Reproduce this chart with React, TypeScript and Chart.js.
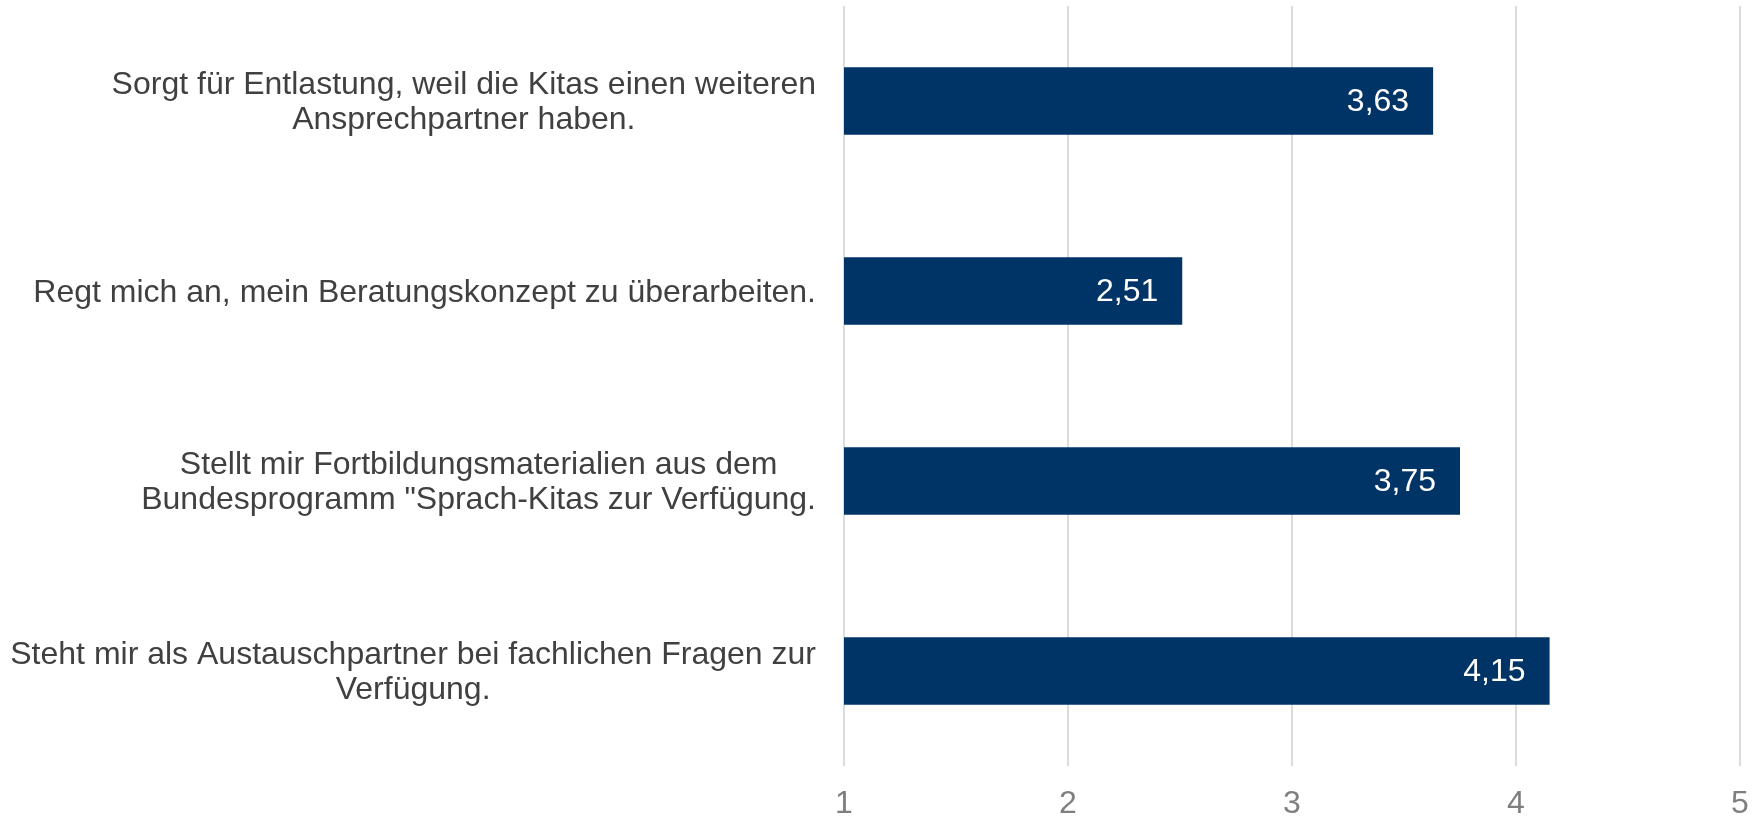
import React, { useEffect, useRef } from "react";
import { Chart, registerables } from "chart.js";

Chart.register(...registerables);

const categories: string[][] = [
  ["Sorgt für Entlastung, weil die Kitas einen weiteren", "Ansprechpartner haben."],
  ["Regt mich an, mein Beratungskonzept zu überarbeiten."],
  ["Stellt mir Fortbildungsmaterialien aus dem", "Bundesprogramm \"Sprach-Kitas zur Verfügung."],
  ["Steht mir als Austauschpartner bei fachlichen Fragen zur", "Verfügung."],
];
const values: number[] = [3.63, 2.51, 3.75, 4.15];
const xTicks: number[] = [1, 2, 3, 4, 5];

const FONT = "'Liberation Sans', Arial, sans-serif";

const labelPlugin = {
  id: "customLabels",
  afterDatasetsDraw(chart: any) {
    const ctx = chart.ctx as CanvasRenderingContext2D;
    const yScale = chart.scales.y;
    const area = chart.chartArea;
    ctx.save();
    ctx.font = `32px ${FONT}`;
    ctx.fillStyle = "#404040";
    ctx.textAlign = "center";
    ctx.textBaseline = "middle";
    const lineH = 35;
    categories.forEach((lines, i) => {
      const cy = yScale.getPixelForValue(i) + 2;
      const w = Math.max(...lines.map((l) => ctx.measureText(l).width));
      const right = area.left - 28;
      const cx = right - w / 2;
      const startY = cy - ((lines.length - 1) * lineH) / 2;
      lines.forEach((l, j) => ctx.fillText(l, cx, startY + j * lineH));
    });
    const meta = chart.getDatasetMeta(0);
    ctx.font = `32px ${FONT}`;
    ctx.fillStyle = "#ffffff";
    ctx.textAlign = "right";
    meta.data.forEach((bar: any, i: number) => {
      const txt = values[i].toFixed(2).replace(".", ",");
      ctx.fillText(txt, bar.x - 24, bar.y + 1);
    });
    ctx.restore();
  },
};

export default function App() {
  const ref = useRef<HTMLCanvasElement | null>(null);
  useEffect(() => {
    document.body.style.margin = "0";
    if (!ref.current) return;
    const chart = new Chart(ref.current, {
      type: "bar",
      data: {
        labels: categories.map((c) => c.join(" ")),
        datasets: [
          {
            data: values.map((v) => [xTicks[0], v]) as any,
            backgroundColor: "#003466",
            borderWidth: 0,
            categoryPercentage: 1,
            barPercentage: 0.355,
          },
        ],
      },
      options: {
        indexAxis: "y",
        animation: false,
        responsive: true,
        maintainAspectRatio: false,
        layout: { padding: { left: 844, right: 19, top: 6, bottom: 0 } },
        plugins: { legend: { display: false }, tooltip: { enabled: false } },
        scales: {
          y: { display: false },
          x: {
            type: "linear",
            min: xTicks[0],
            max: xTicks[xTicks.length - 1],
            afterBuildTicks: (scale: any) => {
              scale.ticks = xTicks.map((v) => ({ value: v }));
            },
            afterFit: (scale: any) => {
              scale.height = 51;
              scale.paddingLeft = 0;
              scale.paddingRight = 0;
            },
            border: { display: false },
            grid: { color: "#dcdcdc", lineWidth: 2, drawTicks: false },
            ticks: {
              padding: 22,
              color: "#7f7f7f",
              font: { size: 32, family: FONT, lineHeight: 1 },
            },
          },
        },
      },
      plugins: [labelPlugin],
    });
    return () => chart.destroy();
  }, []);
  return (
    <div style={{ position: "absolute", left: 0, top: 0, width: 1759, height: 817 }}>
      <canvas ref={ref} />
    </div>
  );
}
